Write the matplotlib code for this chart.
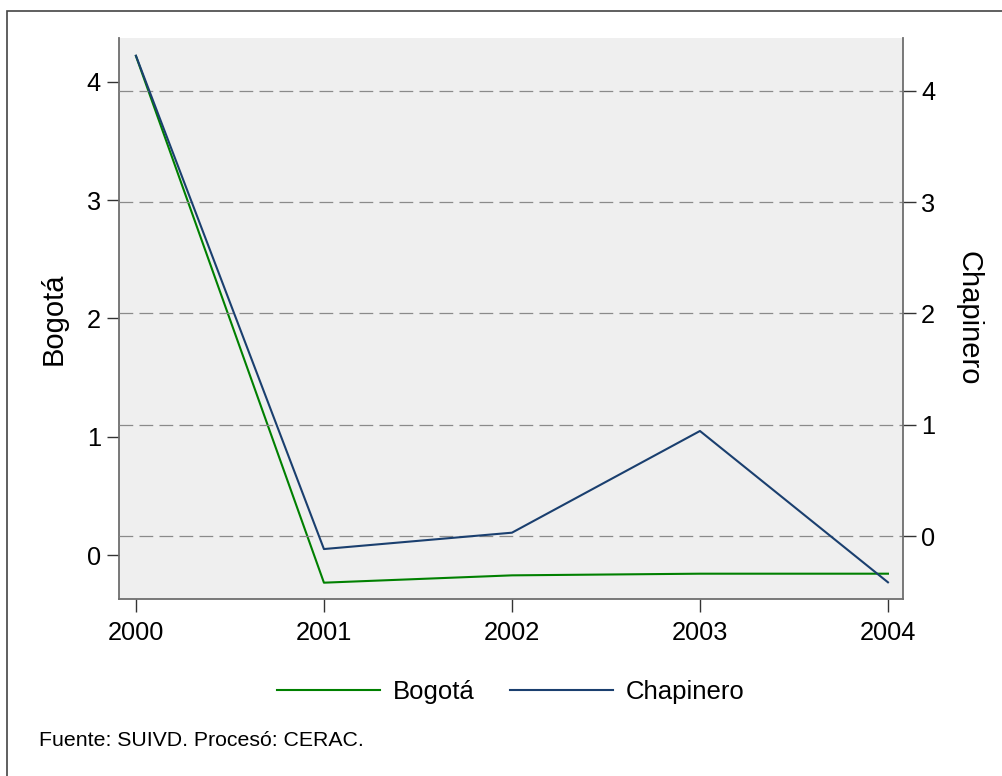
import matplotlib
matplotlib.use('Agg')
import matplotlib.pyplot as plt
from matplotlib.patches import Rectangle
from matplotlib.lines import Line2D

plt.rcParams['font.family'] = ['Liberation Sans', 'DejaVu Sans']

years = [2000, 2001, 2002, 2003, 2004]
bogota = [4.22, -0.234, -0.172, -0.158, -0.158]
chapinero = [4.317, -0.117, 0.03, 0.944, -0.416]
yticks = [0, 1, 2, 3, 4]

green = '#008000'
navy = '#1a3f6f'
spine_c = '#6e6e6e'

W, H = 1003, 776
fig = plt.figure(figsize=(W / 100, H / 100), dpi=100)

# outer frame (only top/left visible in the reference)
fig.patches.append(Rectangle((7 / W, -0.05), 1.1, 1 - 11 / H + 0.05,
                             transform=fig.transFigure, fill=False,
                             edgecolor='#444444', linewidth=1.2))

ax1 = fig.add_axes([119 / W, 1 - 599 / H, (903 - 119) / W, (599 - 38) / H])
ax1.set_facecolor('#efefef')
ax2 = ax1.twinx()

ax1.plot(years, bogota, color=green, lw=1.5)
ax2.plot(years, chapinero, color=navy, lw=1.5)

ax1.set_xlim(1999.91, 2004.08)
ax1.set_ylim(-0.372, 4.372)
ax2.set_ylim(-0.566, 4.476)

ax1.set_xticks(years)
ax1.set_yticks(yticks)
ax2.set_yticks(yticks)

ax2.grid(axis='y', color='#8a8a8a', linewidth=0.9, linestyle=(0, (11, 5)))
ax1.grid(False)

for ax in (ax1, ax2):
    ax.spines['top'].set_visible(False)
    for s in ('left', 'right', 'bottom'):
        ax.spines[s].set_color(spine_c)
        ax.spines[s].set_linewidth(1.3)
    ax.tick_params(labelsize=18.3, length=9, width=1, color='#333333', pad=4)
ax1.tick_params(axis='x', pad=7)

ax1.spines['right'].set_visible(False)
ax2.spines['left'].set_visible(False)
ax2.spines['bottom'].set_visible(False)

ax1.set_ylabel('Bogotá', fontsize=21, labelpad=14)
ax2.set_ylabel('Chapinero', fontsize=21, rotation=270, labelpad=34)

handles = [Line2D([], [], color=green, lw=1.5), Line2D([], [], color=navy, lw=1.5)]
fig.legend(handles, ['Bogotá', 'Chapinero'], loc='center', ncol=2,
           bbox_to_anchor=(511 / W, 1 - 692 / H), frameon=False, fontsize=18.5,
           handlelength=4.0, handletextpad=0.5, columnspacing=1.4)

fig.text(39 / W, 1 - 740 / H, 'Fuente: SUIVD. Procesó: CERAC.', fontsize=15.3,
         va='center', ha='left')

fig.savefig('out.png', dpi=100)
